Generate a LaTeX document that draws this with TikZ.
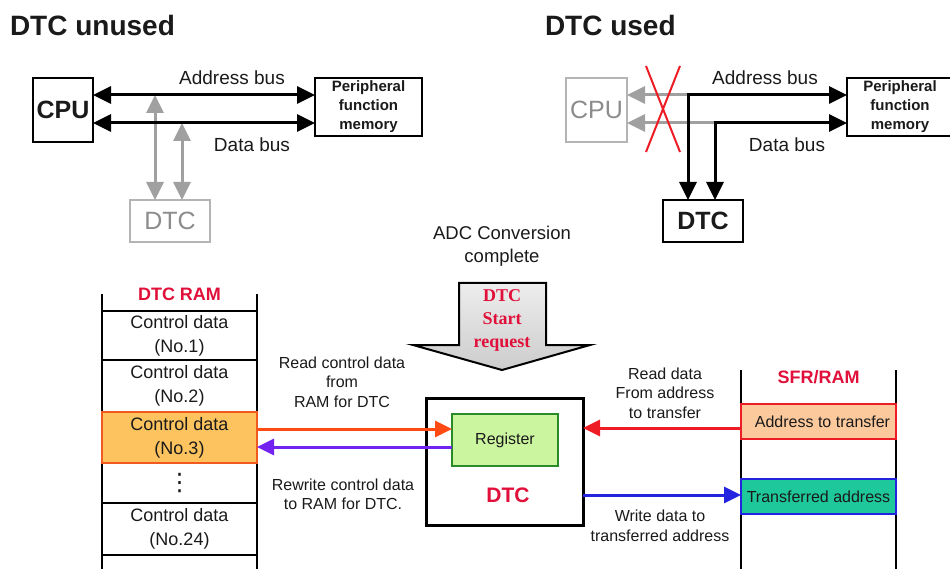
\documentclass[tikz,border=0pt]{standalone}
\usepackage{fontspec}
\setmainfont{Liberation Sans}
\newfontfamily\serifbf{Liberation Serif}
\newfontfamily\dejavu{DejaVu Sans}
\usetikzlibrary{arrows.meta}
\definecolor{txt}{HTML}{1A1A1A}
\definecolor{titlered}{HTML}{E0103A}
\definecolor{greyline}{HTML}{A0A0A0}
\definecolor{greytxt}{HTML}{8C8C8C}
\definecolor{greybox}{HTML}{B4B4B4}
\definecolor{orangeline}{HTML}{FF4A14}
\definecolor{purpleline}{HTML}{7422F0}
\definecolor{redline}{HTML}{EE1C24}
\definecolor{blueline}{HTML}{2424E0}
\definecolor{cellfill}{HTML}{FCC35E}
\definecolor{cellborder}{HTML}{F05A1E}
\definecolor{regfill}{HTML}{CCF5A0}
\definecolor{regborder}{HTML}{2A8A2A}
\definecolor{addrfill}{HTML}{FCC99C}
\definecolor{transfill}{HTML}{1EC89A}
\tikzset{
  BT/.tip={Triangle[length=18pt,width=17pt]},
  CT/.tip={Triangle[length=17pt,width=16pt]},
}
\begin{document}
\begin{tikzpicture}[x=1pt,y=-1pt,
  every node/.style={inner sep=0pt, outer sep=0pt, text=txt},
  box/.style={draw=black, line width=1.4pt, fill=white, align=center},
  lbl/.style={font=\fontsize{16}{19.5}\selectfont, align=center},
  buslbl/.style={font=\fontsize{19}{23}\selectfont},
  titletxt/.style={font=\bfseries\fontsize{28}{32}\selectfont, anchor=west},
  bus/.style={draw=black, line width=3pt, line join=miter, BT-BT},
  greybus/.style={draw=greyline, line width=3pt, BT-BT},
  greyone/.style={draw=greyline, line width=3pt, -BT},
  coltitle/.style={font=\bfseries\fontsize{18}{22}\selectfont, text=titlered},
  cell/.style={draw=black, line width=1.8pt, minimum width=155pt, align=center,
    font=\fontsize{18}{24}\selectfont},
  colline/.style={draw=black, line width=2pt},
  flow/.style={line width=3pt, -CT},
]
\useasboundingbox (0,0) rectangle (950,569);

% ---------------- DTC unused ----------------
\node[titletxt] (t1) at (10,25) {DTC unused};
\node[box, minimum width=60pt, minimum height=64pt,
  font=\bfseries\fontsize{25}{28}\selectfont] (cpu1) at (63,110) {CPU};
\node[box, minimum width=107pt, minimum height=58pt,
  font=\bfseries\fontsize{15}{19}\selectfont] (per1) at (368.5,107)
  {Peripheral\\function\\memory};
\node[box, draw=greybox, minimum width=80pt, minimum height=42pt, text=greytxt,
  font=\fontsize{25}{28}\selectfont] (dtc1) at (170,221) {DTC};
\coordinate (ya1) at (0,95);
\coordinate (yd1) at (0,123);
\coordinate (g1) at (155,95);
\coordinate (g2) at (182,123);
\draw[greybus] (g1) -- (g1 |- dtc1.north);
\draw[greybus] (g2) -- (g2 |- dtc1.north);
\draw[bus] (cpu1.east |- ya1) -- (per1.west |- ya1);
\draw[bus] (cpu1.east |- yd1) -- (per1.west |- yd1);
\node[buslbl] (ab1) at (232,78) {Address bus};
\node[buslbl] (db1) at (252,145) {Data bus};

% ---------------- DTC used ----------------
\node[titletxt] (t2) at (545,25) {DTC used};
\node[box, draw=greybox, minimum width=61pt, minimum height=64pt, text=greytxt,
  font=\fontsize{25}{28}\selectfont] (cpu2) at (596.5,110) {CPU};
\node[box, minimum width=106pt, minimum height=58pt,
  font=\bfseries\fontsize{15}{19}\selectfont] (per2) at (900,107)
  {Peripheral\\function\\memory};
\node[box, line width=2pt, minimum width=80pt, minimum height=42pt,
  font=\bfseries\fontsize{25}{28}\selectfont] (dtc2) at (703,221) {DTC};
\coordinate (j1) at (688,95);
\coordinate (j2) at (715,123);
\draw[greyone] (j1) -- (cpu2.east |- j1);
\draw[greyone] (j2) -- (cpu2.east |- j2);
\draw[bus] (per2.west |- j1) -- (j1) -- (j1 |- dtc2.north);
\draw[bus] (per2.west |- j2) -- (j2) -- (j2 |- dtc2.north);
\draw[redline, line width=2pt] (646,66) -- (680,152) (680,66) -- (646,152);
\node[buslbl] (ab2) at (765,78) {Address bus};
\node[buslbl] (db2) at (787,145) {Data bus};

% ---------------- start request ----------------
\node[align=center, font=\fontsize{18.5}{23}\selectfont] (adc) at (502,246)
  {ADC Conversion\\complete};
\draw[black, line width=2pt, line join=miter, top color=white!93!black,
  bottom color=white!80!black]
  (459,283) -- (546,283) -- (546,345) -- (590,345) -- (502,370)
  -- (413,345) -- (459,345) -- cycle;
\node[align=center, text=titlered, font=\serifbf\bfseries\fontsize{18}{23}\selectfont]
  (req) at (502,320) {DTC\\Start\\request};

% ---------------- DTC RAM ----------------
\draw[colline] (102,294) -- (102,569);
\draw[colline] (257,294) -- (257,569);
\node[coltitle] (ramt) at (179.5,294) {DTC RAM};
\node[cell, minimum height=49pt] (c1) at (179.5,335.5) {Control data\\(No.1)};
\node[cell, minimum height=52pt] (c2) at (179.5,386) {Control data\\(No.2)};
\node[cell, minimum height=40pt, font=\dejavu\fontsize{24}{24}\selectfont] (cd) at (179.5,483) {⋮};
\node[cell, minimum height=52pt] (c24) at (179.5,529) {Control data\\(No.24)};
\node[cell, draw=cellborder, line width=2.5pt, fill=cellfill, minimum height=51pt]
  (c3) at (179.5,437.5) {Control data\\(No.3)};
\draw[colline] (102,555) -- (257,555);

% ---------------- DTC block ----------------
\node[box, line width=3pt, minimum width=157pt, minimum height=127pt] (dtc) at (504.5,461.5) {};
\node[draw=regborder, line width=2.5pt, fill=regfill, minimum width=106pt,
  minimum height=52pt, font=\fontsize{16}{19}\selectfont] (reg) at (505,440) {Register};
\node[text=titlered, font=\bfseries\fontsize{21}{24}\selectfont] (dtct) at (508,495) {DTC};

\coordinate (yo) at (0,429);
\coordinate (yp) at (0,447);
\draw[flow, orangeline] (c3.east |- yo) -- (reg.west |- yo);
\draw[flow, purpleline] (reg.west |- yp) -- (c3.east |- yp);
\node[lbl] (rdctl) at (342,382) {Read control data\\from\\RAM for DTC};
\node[lbl] (wrctl) at (343,494.5) {Rewrite control data\\to RAM for DTC.};

% ---------------- SFR/RAM ----------------
\draw[colline] (741,370) -- (741,569);
\draw[colline] (896,370) -- (896,569);
\node[coltitle] (sfrt) at (818.5,377) {SFR/RAM};
\node[draw=redline, line width=2.5pt, fill=addrfill, minimum width=155pt,
  minimum height=35pt, font=\fontsize{16}{19}\selectfont] (sa) at (818.5,421.5)
  {\hspace*{8pt}Address to transfer};
\node[draw=blueline, line width=2.5pt, fill=transfill, minimum width=155pt,
  minimum height=35pt, font=\fontsize{16}{19}\selectfont] (sb) at (818.5,496.5)
  {Transferred address};
\coordinate (yr) at (0,428);
\coordinate (yb) at (0,495);
\draw[flow, redline] (sa.west |- yr) -- (dtc.east |- yr);
\draw[flow, blueline] (dtc.east |- yb) -- (sb.west |- yb);
\node[lbl] (rddata) at (665,393) {Read data\\From address\\to transfer};
\node[lbl] (wrdata) at (660,526) {Write data to\\transferred address};
\end{tikzpicture}
\end{document}
